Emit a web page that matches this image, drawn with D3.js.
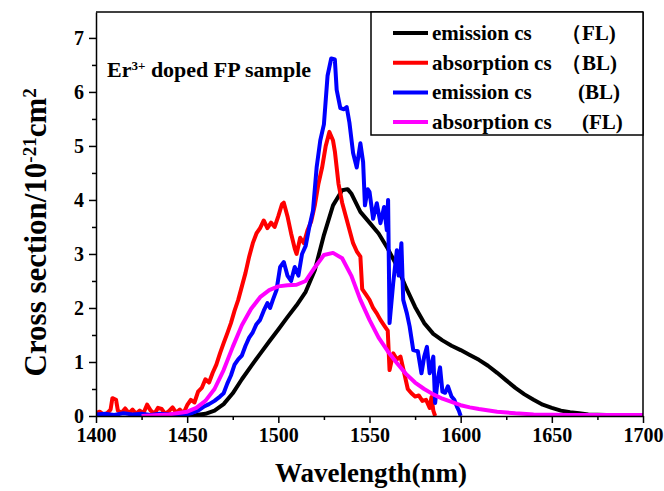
<!DOCTYPE html>
<html>
<head>
<meta charset="utf-8">
<script src="https://cdn.jsdelivr.net/npm/d3@7"></script>
<style>
  body { margin: 0; background: #fff; }
  text { font-family: "Liberation Serif", "Times New Roman", serif; font-weight: bold; }
</style>
</head>
<body>
<div id="chart"></div>
<script>
// Emission cs (FL) - black
const blackWl = [1440,1450,1455,1460,1465,1470,1475,1480,1485,1490,1495,1500,1505,1510,1515,1520,1525,1530,1535,1538,1540,1545,1550,1555,1560,1565,1570,1575,1580,1585,1590,1595,1600,1605,1610,1615,1620,1625,1630,1635,1640,1645,1650,1655,1660,1665,1670,1680,1690,1700];
const blackVal = [0,0.01,0.02,0.04,0.1,0.22,0.42,0.68,0.92,1.15,1.38,1.6,1.83,2.05,2.3,2.7,3.35,3.9,4.18,4.2,4.12,3.78,3.58,3.38,3.1,2.78,2.38,2.02,1.72,1.52,1.4,1.3,1.22,1.13,1.04,0.93,0.8,0.66,0.52,0.4,0.3,0.21,0.15,0.1,0.07,0.05,0.03,0.02,0.01,0.01];

// Absorption cs (BL) - red
const redWl = [1400,1402,1404,1406,1408,1409,1411,1412,1414,1416,1418,1420,1422,1424,1426,1428,1430,1432,1434,1436,1438,1440,1442,1444,1446,1448,1450,1452,1454,1456,1458,1460,1462,1464,1466,1468,1470,1472,1474,1476,1478,1480,1482,1484,1486,1488,1490,1492,1494,1496,1498,1500,1502,1503,1505,1507,1509,1510,1512,1514,1516,1518,1520,1522,1524,1526,1528,1530,1531,1533,1535,1537,1539,1541,1543,1545,1546,1548,1550,1552,1554,1556,1558,1560,1561,1563,1565,1567,1569,1571,1573,1575,1577,1579,1581,1583,1584,1585,1586];
const redVal = [0.05,0.08,0.03,0.05,0.12,0.33,0.3,0.1,0.06,0.14,0.05,0.12,0.04,0.1,0.05,0.21,0.1,0.04,0.15,0.13,0.04,0.09,0.16,0.06,0.12,0.05,0.2,0.3,0.25,0.45,0.52,0.68,0.62,0.8,0.95,1.16,1.35,1.53,1.72,1.95,2.15,2.4,2.65,2.95,3.2,3.38,3.48,3.62,3.48,3.58,3.5,3.7,3.92,3.95,3.7,3.38,3.1,3.0,3.3,3.2,3.44,3.6,3.9,4.3,4.6,5.0,5.26,5.1,4.9,4.3,3.95,3.7,3.45,3.2,3.05,2.95,2.35,2.25,2.15,2.0,1.9,1.78,1.68,1.58,0.85,1.16,1.05,1.1,0.8,0.5,0.42,0.36,0.38,0.28,0.3,0.15,0.35,0.1,0];

// Emission cs (BL) - blue
const blueWl = [1400,1405,1410,1415,1420,1425,1430,1435,1440,1445,1450,1453,1456,1459,1462,1465,1468,1470,1472,1474,1476,1478,1480,1482,1484,1486,1488,1490,1492,1494,1495.5,1497,1499,1501,1503,1505,1507,1509,1511,1513,1515,1517,1519,1521,1523,1525,1527,1529,1531,1532,1534,1536,1537.5,1539,1541,1543,1545,1546.5,1547.5,1549,1550,1552,1554,1556,1558,1559.5,1560.2,1561,1563,1565,1566,1567.5,1568.5,1570.5,1572,1574,1576.5,1578.5,1580,1581.5,1583,1585,1586,1587.5,1588.7,1590,1591.5,1593,1595,1596.5,1598,1599,1600];
const blueVal = [0.03,0.04,0.02,0.05,0.03,0.04,0.02,0.04,0.03,0.03,0.03,0.06,0.1,0.17,0.22,0.28,0.36,0.42,0.6,0.75,0.95,1.05,1.12,1.3,1.45,1.55,1.7,1.78,1.95,2.09,2.0,2.15,2.33,2.76,2.85,2.6,2.5,2.76,2.6,3.0,3.15,3.5,3.8,4.6,5.1,5.4,6.3,6.62,6.6,6.04,5.7,5.68,5.72,5.43,4.87,4.6,5.05,4.7,3.9,4.2,4.15,3.65,3.94,3.57,3.87,3.44,4.0,1.72,2.46,3.07,2.6,3.2,2.15,1.9,1.66,1.22,1.2,0.79,1.1,1.28,0.79,1.1,0.24,0.7,0.9,0.45,0.43,0.55,0.36,0.3,0.17,0.1,0];

// Absorption cs (FL) - magenta
const magWl = [1425,1430,1440,1450,1455,1460,1465,1470,1475,1480,1485,1490,1495,1500,1505,1510,1515,1520,1525,1530,1535,1540,1545,1550,1555,1560,1565,1570,1575,1580,1585,1590,1595,1600,1605,1610,1620,1630,1640,1660,1680,1700];
const magVal = [0,0.01,0.03,0.08,0.15,0.28,0.5,0.85,1.28,1.68,1.98,2.2,2.33,2.4,2.42,2.43,2.5,2.75,2.98,3.02,2.92,2.6,2.15,1.78,1.45,1.2,0.98,0.78,0.62,0.5,0.4,0.32,0.26,0.2,0.16,0.13,0.08,0.05,0.03,0.02,0.02,0.02];

const xTicks = [1400,1450,1500,1550,1600,1650,1700];
const yTicks = [0,1,2,3,4,5,6,7];

const legendNames = ["emission cs", "absorption cs", "emission cs", "absorption cs"];
const legendTags = ["\uFF08FL)", "\uFF08BL)", "(BL)", "(FL)"];

const series = [
  {wl: blackWl, val: blackVal, color: "#000000"},
  {wl: redWl, val: redVal, color: "#ff0000"},
  {wl: blueWl, val: blueVal, color: "#0000ff"},
  {wl: magWl, val: magVal, color: "#ff00ff"}
];

const width = 664, height = 491;
const margin = {top: 12, right: 21, bottom: 75, left: 96};

const svg = d3.select("#chart").append("svg")
    .attr("width", width)
    .attr("height", height);

const x = d3.scaleLinear().domain([1400, 1700]).range([margin.left, width - margin.right]);
const y = d3.scaleLinear().domain([0, 7.48]).range([height - margin.bottom, margin.top]);

// clip
svg.append("clipPath").attr("id", "clip")
  .append("rect")
    .attr("x", margin.left).attr("y", margin.top)
    .attr("width", x(1700) - x(1400)).attr("height", y(0) - y(7.48));

// curves
const line = d3.line().x(d => x(d[0])).y(d => y(d[1]));
svg.append("g").attr("clip-path", "url(#clip)")
  .selectAll("path")
  .data(series)
  .enter()
  .append("path")
    .attr("fill", "none")
    .attr("stroke", d => d.color)
    .attr("stroke-width", 4)
    .attr("stroke-linejoin", "round")
    .attr("d", d => line(d.wl.map((w, i) => [w, d.val[i]])));

// minor ticks
const xMinor = d3.range(1425, 1700, 50);
const yMinor = d3.range(0.5, 7.5, 1);

// x axis
svg.append("g")
    .attr("transform", `translate(0,${y(0)})`)
    .call(d3.axisBottom(x).tickValues(xTicks).tickFormat(d3.format("d")).tickSize(7).tickSizeOuter(0).tickPadding(5));
svg.append("g")
    .attr("transform", `translate(0,${y(0)})`)
    .call(d3.axisBottom(x).tickValues(xMinor).tickFormat("").tickSize(4).tickSizeOuter(0))
    .select(".domain").remove();

// y axis
svg.append("g")
    .attr("transform", `translate(${x(1400)},0)`)
    .call(d3.axisLeft(y).tickValues(yTicks).tickSize(7).tickSizeOuter(0).tickPadding(5));
svg.append("g")
    .attr("transform", `translate(${x(1400)},0)`)
    .call(d3.axisLeft(y).tickValues(yMinor).tickFormat("").tickSize(4).tickSizeOuter(0))
    .select(".domain").remove();

svg.selectAll(".tick text")
    .style("font-family", "'Liberation Serif', serif")
    .style("font-weight", "bold")
    .style("font-size", "20px")
    .attr("fill", "#000");
svg.selectAll(".tick line").attr("stroke", "#000").attr("stroke-width", 1.5);
svg.selectAll(".domain").attr("stroke", "#000").attr("stroke-width", 1.5);

// frame top and right
svg.append("line")
    .attr("x1", x(1400)).attr("x2", x(1700))
    .attr("y1", y(7.48)).attr("y2", y(7.48))
    .attr("stroke", "#000").attr("stroke-width", 1.5);
svg.append("line")
    .attr("x1", x(1700)).attr("x2", x(1700))
    .attr("y1", y(7.48)).attr("y2", y(0))
    .attr("stroke", "#000").attr("stroke-width", 1.5);

// axis titles
svg.append("text")
    .attr("x", 371)
    .attr("y", 482)
    .attr("text-anchor", "middle")
    .style("font-size", "27px")
    .text("Wavelength(nm)");

const yTitle = svg.append("text")
    .attr("transform", `translate(46,${y(3.4)}) rotate(-90)`)
    .attr("text-anchor", "middle")
    .style("font-size", "31px");
yTitle.append("tspan").text("Cross section/10");
yTitle.append("tspan").attr("baseline-shift", "super").style("font-size", "19px").text("-21");
yTitle.append("tspan").text("cm");
yTitle.append("tspan").attr("baseline-shift", "super").style("font-size", "19px").text("2");

// annotation
const note = svg.append("text")
    .attr("x", 107)
    .attr("y", 77)
    .style("font-size", "22px");
note.append("tspan").text("Er");
note.append("tspan").attr("baseline-shift", "super").style("font-size", "13px").text("3+");
note.append("tspan").text(" doped FP sample");

// legend
const legend = svg.append("g");
legend.append("rect")
    .attr("x", 371).attr("y", margin.top)
    .attr("width", x(1700) - 371).attr("height", 123)
    .attr("fill", "#fff")
    .attr("stroke", "#000").attr("stroke-width", 1.5);

const rows = legend.selectAll("g.row")
  .data(series)
  .enter()
  .append("g")
    .attr("class", "row")
    .attr("transform", (d, i) => `translate(0,${33 + i * 29.7})`);
rows.append("line")
    .attr("x1", 393).attr("x2", 428)
    .attr("stroke", d => d.color)
    .attr("stroke-width", 4);
rows.append("text")
    .attr("x", 432)
    .attr("y", 7)
    .style("font-size", "21px")
    .text((d, i) => legendNames[i]);
rows.append("text")
    .attr("x", (d, i) => legendTags[i].startsWith("(") ? 578 + (i === 3 ? 4 : 0) : 561)
    .attr("y", 7)
    .style("font-size", "21px")
    .text((d, i) => legendTags[i]);
</script>
</body>
</html>
